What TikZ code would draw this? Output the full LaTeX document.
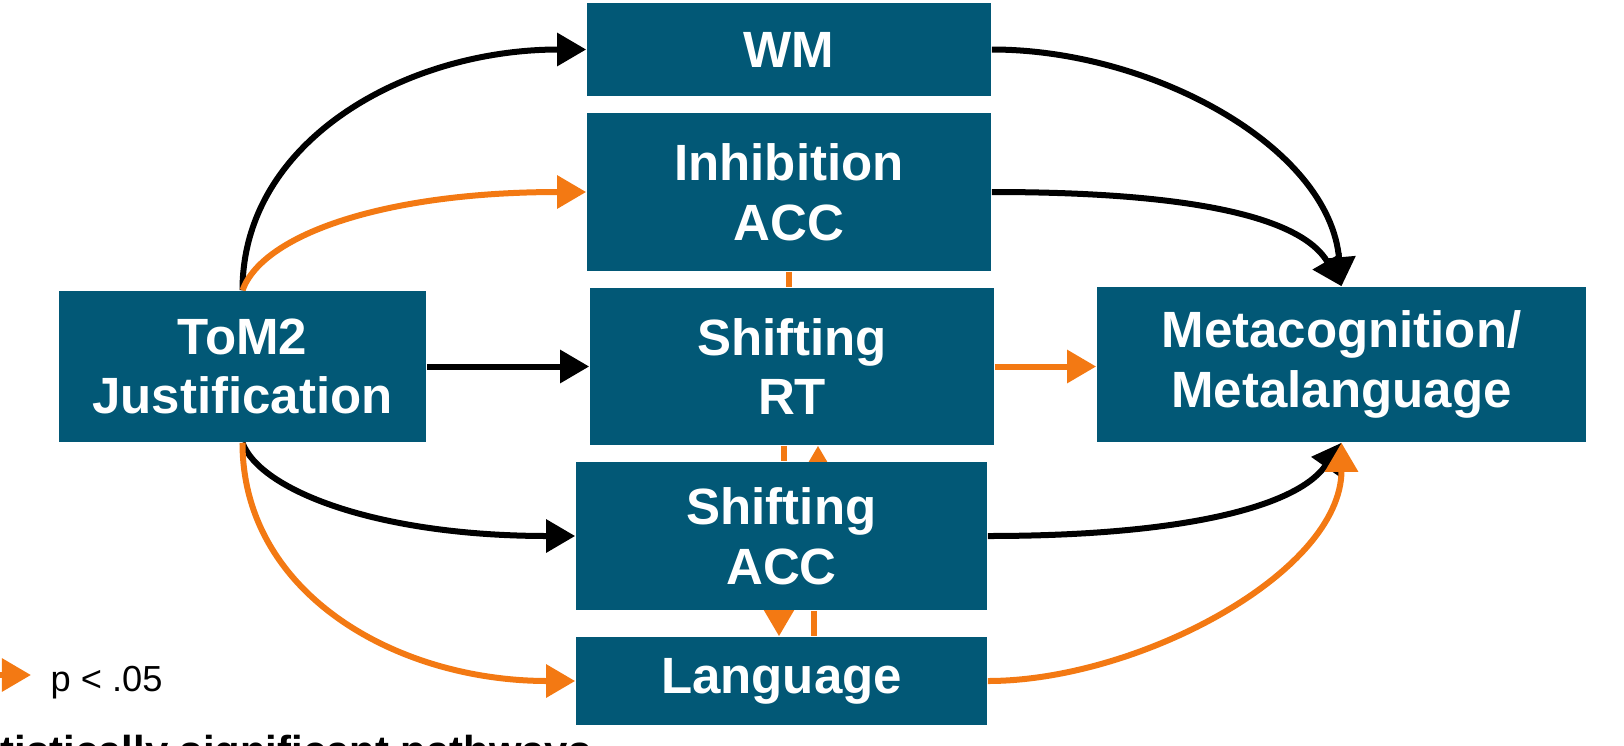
\documentclass[tikz,border=0pt]{standalone}
\usepackage{fontspec}
\setmainfont{Liberation Sans}
\usetikzlibrary{positioning,arrows.meta,calc,backgrounds}
\definecolor{boxblue}{RGB}{2,88,118}
\definecolor{sigorange}{RGB}{243,121,19}
\newcommand{\boxfont}{\fontsize{14.5}{17}\selectfont\bfseries}
\tikzstyle{box} = [fill=boxblue, text=white, font=\boxfont, align=center, inner sep=0pt]
\tikzstyle{arrow} = [line width=0.06cm, -{Triangle[length=0.29cm,width=0.32cm]}]
\tikzstyle{sigarrow} = [arrow, sigorange]
\tikzstyle{sigline} = [line width=0.06cm, sigorange]

\begin{document}
\begin{tikzpicture}[x=0.01cm, y=0.01cm]
    \useasboundingbox (0,0) rectangle (1624,-745);
    \clip (0,0) rectangle (1624,-745);

    \node (tom) [box, minimum width=3.67cm, minimum height=1.51cm] at (242.5,-366.5) {ToM2\\Justification}; % predictor
    \node (wm) [box, minimum width=4.04cm, minimum height=0.93cm] at (789,-49.5) {WM};
    \node (inh) [box, minimum width=4.04cm, minimum height=1.58cm] at (789,-192) {Inhibition\\ACC};
    \node (shrt) [box, minimum width=4.04cm, minimum height=1.57cm] at (792,-366.5) {Shifting\\RT};
    \node (shacc) [box, minimum width=4.11cm, minimum height=1.48cm] at (781.5,-536) {Shifting\\ACC};
    \node (lang) [box, minimum width=4.11cm, minimum height=0.88cm] at (781.5,-681) {Language};
    \node (meta) [box, minimum width=4.89cm, minimum height=1.55cm] at (1341.5,-364.5) {Metacognition/\\Metalanguage}; % outcome

    \begin{scope}[on background layer]
      % into the mediators
      \draw [arrow] (tom.north) .. controls +(90:150) and +(180:180) .. (wm.west);
      \draw [sigarrow] (tom.north) .. controls +(70:60) and +(180:200) .. (inh.west);
      \draw [arrow] (tom) -- (shrt);
      \draw [arrow] (tom.south) .. controls +(-70:50) and +(180:200) .. (shacc.west);
      \draw [sigarrow] (tom.south) .. controls +(-90:150) and +(180:180) .. (lang.west);

      % out to the outcome
      \draw [arrow] (wm.east) .. controls +(0:160) and +(95:140) .. (meta.north);
      \draw [arrow] (inh.east) .. controls +(0:200) and +(120:80) .. (meta.north);
      \draw [sigarrow] (shrt.east) -- (shrt.east -| meta.west);
      \draw [arrow] (shacc.east) .. controls +(0:190) and +(235:80) .. (meta.south);
      \draw [sigarrow] (lang.east) .. controls +(0:150) and +(-90:130) .. (meta.south);

      % between the mediators
      \draw [sigline] (inh.south) -- (inh.south |- shrt.north);
      \draw [sigline] ($(shrt.south)+(-8,0)$) -- ($(shacc.north)+(2.5,0)$);
      \draw [sigarrow] ($(shacc.north)+(36.5,-20)$) -- ($(shrt.south)+(26,0)$);
      \draw [sigarrow] ($(shacc.south)+(-2.5,20)$) -- ($(lang.north)+(-2.5,0)$);
      \draw [sigline] ($(shacc.south)+(32.5,0)$) -- ($(lang.north)+(32.5,0)$);
    \end{scope}

    % legend
    \coordinate (legtail) at (-40,-675);
    \coordinate (leghead) at (31,-675);
    \draw [sigarrow] (legtail) -- (leghead);
    \node (sig) [anchor=base west, inner sep=0pt, font=\fontsize{10.3}{12}\selectfont] at (50,-691) {p < .05};
    \node (legend) [anchor=base west, inner sep=0pt, font=\fontsize{11.9}{14}\selectfont\bfseries] at (-65,-765) {Statistically significant pathways};
\end{tikzpicture}
\end{document}
